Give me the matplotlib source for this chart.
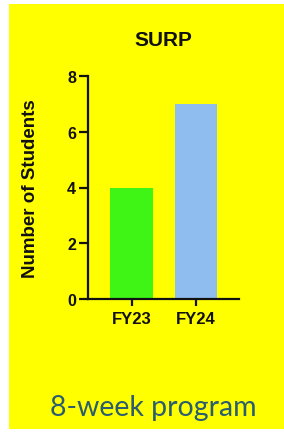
import matplotlib
matplotlib.use("Agg")
import matplotlib.pyplot as plt
from matplotlib.patches import Rectangle

years = ["FY23", "FY24"]
students = [4, 7]
bar_colors = ["#3ff516", "#90bdf0"]

plt.rcParams['font.family'] = ['Liberation Sans', 'DejaVu Sans']

fig = plt.figure(figsize=(2.84, 4.35), dpi=100)
fig.patch.set_facecolor("white")
# yellow slide background
fig.patches.append(Rectangle((9 / 284, 1 - 430 / 435), 275 / 284, 425 / 435,
                             transform=fig.transFigure, facecolor="#ffff00",
                             edgecolor="none", zorder=-5))

ax = fig.add_axes([88 / 284, 1 - 300 / 435, 151 / 284, 223 / 435])
ax.set_zorder(2)
ax.set_facecolor("none")
ax.bar(range(len(years)), students, width=0.66, color=bar_colors, zorder=2)
ax.set_xlim(-0.68, 1.67)
ax.set_ylim(0, 8)
ax.set_yticks([0, 2, 4, 6, 8])
ax.set_xticks(range(len(years)))
ax.set_xticklabels(years)
for s in ["top", "right"]:
    ax.spines[s].set_visible(False)
for s in ["left", "bottom"]:
    ax.spines[s].set_linewidth(1.6)
    ax.spines[s].set_color("#111111")
ax.tick_params(axis="y", direction="out", length=6.5, width=1.6,
               color="#111111", labelsize=11.5, pad=2)
ax.tick_params(axis="x", direction="out", length=5, width=1.6,
               color="#111111", labelsize=12, pad=4)
for lab in ax.get_xticklabels() + ax.get_yticklabels():
    lab.set_fontweight("bold")
    lab.set_color("#111111")
ax.set_ylabel("Number of Students", fontsize=13.5, fontweight="bold",
              color="#111111")
ax.yaxis.set_label_coords((30.5 - 88) / 151, (300 - 189) / 223)
ax.yaxis.label.set_verticalalignment("center")

fig.text(163 / 284, 1 - 40 / 435, "SURP", ha="center", va="center",
         fontsize=15, fontweight="bold", color="#111111", zorder=3)
fig.text(153 / 284, 1 - 408 / 435, "8-week program", ha="center", va="center",
         fontsize=20.5, color="#2b5d6e", family=["Lato", "DejaVu Sans"], zorder=3)

fig.savefig("out.png", dpi=100)
